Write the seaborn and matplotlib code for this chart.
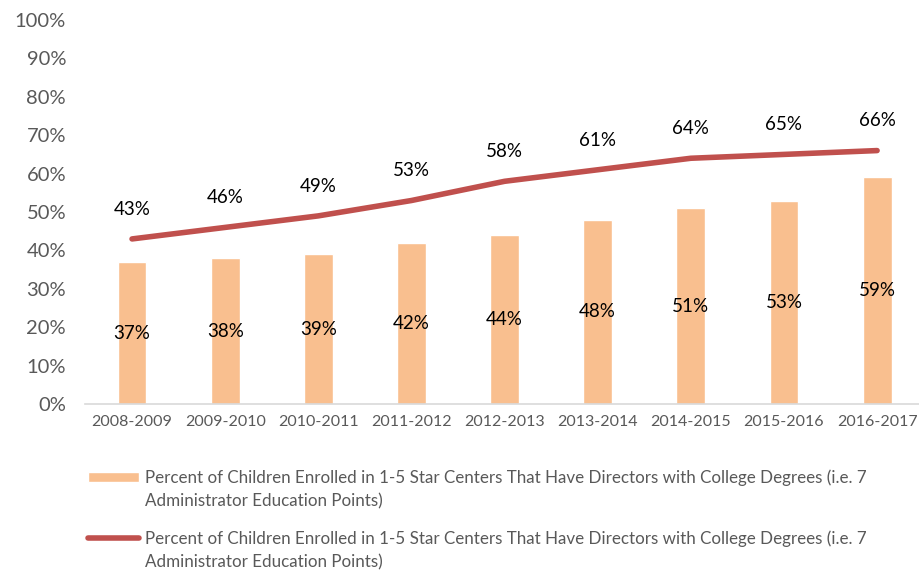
import numpy as np
import pandas as pd
import matplotlib
matplotlib.use("Agg")
import matplotlib.pyplot as plt
import seaborn as sns

years = ["2008-2009", "2009-2010", "2010-2011", "2011-2012", "2012-2013",
         "2013-2014", "2014-2015", "2015-2016", "2016-2017"]
bar_pct = [37, 38, 39, 42, 44, 48, 51, 53, 59]
line_pct = [43, 46, 49, 53, 58, 61, 64, 65, 66]
label_line1 = "Percent of Children Enrolled in 1-5 Star Centers That Have Directors with College Degrees (i.e. 7"
label_line2 = "Administrator Education Points)"

sns.set_theme(style="white")
plt.rcParams["font.family"] = ["Lato", "DejaVu Sans"]

bar_color = "#F9BF8F"
line_color = "#C0504D"
gray = "#595959"

df = pd.DataFrame({"year": years, "bar": bar_pct, "line": line_pct, "pos": np.arange(len(years))})

fig = plt.figure(figsize=(9.19, 5.70), dpi=100)
ax = fig.add_axes([0.093, 0.291, 0.907, 0.674])

sns.barplot(data=df, x="year", y="bar", color=bar_color, width=0.31, saturation=1,
            ax=ax, label=label_line1)
sns.lineplot(data=df, x="pos", y="line", color=line_color, linewidth=4,
             ax=ax, label=label_line1, solid_capstyle="round")

for i, (b, l) in enumerate(zip(bar_pct, line_pct)):
    ax.text(i, b / 2, f"{b}%", ha="center", va="center", fontsize=13.5, color="black")
    ax.text(i, l + 5.5, f"{l}%", ha="center", va="bottom", fontsize=13.5, color="black")

ax.set_xlim(-0.5, 8.45)
ax.set_ylim(0, 100)
ax.set_yticks(range(0, 101, 10))
ax.set_yticklabels([f"{v}%" for v in range(0, 101, 10)], fontsize=14.5, color=gray)
ax.tick_params(axis="x", labelsize=11.5, labelcolor=gray, length=0, pad=8)
ax.tick_params(axis="y", length=0, pad=14)
ax.set_xlabel("")
ax.set_ylabel("")
for side in ["top", "right", "left"]:
    ax.spines[side].set_visible(False)
ax.spines["bottom"].set_color("#D9D9D9")
ax.spines["bottom"].set_linewidth(1.2)

ax.get_legend().remove()
handles, labels = ax.get_legend_handles_labels()
# bars first, then the line
order = [1, 0] if isinstance(handles[0], matplotlib.lines.Line2D) else [0, 1]
leg = fig.legend([handles[i] for i in order], [labels[i] for i in order],
                 loc="upper left", bbox_to_anchor=(0.088, 0.188),
                 frameon=False, fontsize=12.25, labelcolor=gray, handlelength=3.0,
                 handleheight=0.55, handletextpad=0.35, labelspacing=2.6, borderaxespad=0)

# second line of each wrapped legend label, placed under the first line
fig.canvas.draw()
W, H = fig.bbox.width, fig.bbox.height
for txt in leg.get_texts():
    bb = txt.get_window_extent()
    fig.text(bb.x0 / W, (bb.y0 - 23) / H, label_line2, ha="left", va="bottom",
             fontsize=12.25, color=gray)

fig.savefig("out.png", dpi=100)
